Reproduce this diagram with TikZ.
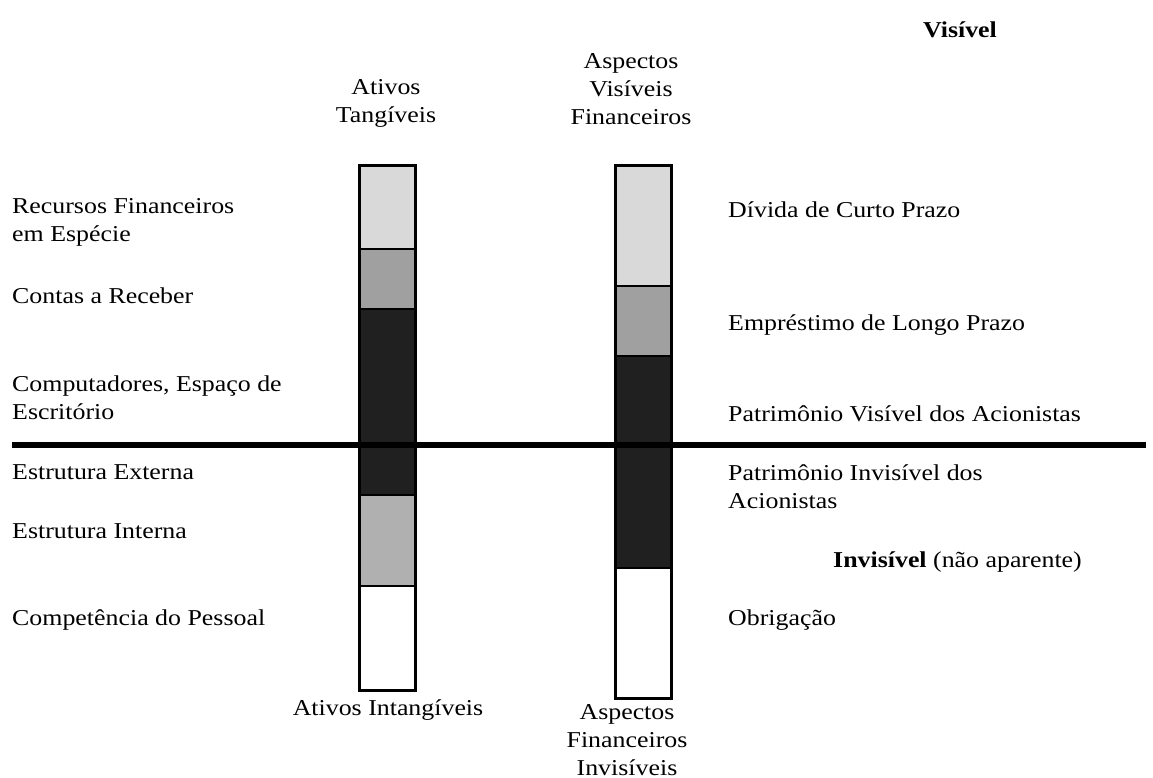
\documentclass[tikz,border=0pt]{standalone}
\usepackage{fontspec}
\setmainfont{Liberation Serif}[FakeStretch=1.14]
\definecolor{lightg}{HTML}{D9D9D9}
\definecolor{midg}{HTML}{A0A0A0}
\definecolor{darkg}{HTML}{202020}
\definecolor{lowg}{HTML}{B0B0B0}
\begin{document}
\begin{tikzpicture}[x=1pt,y=-1pt,
  txt/.style={inner sep=0pt,font=\fontsize{22.7}{28}\selectfont},
  lbl/.style={txt,anchor=west,align=left},
  ctr/.style={txt,align=center},
  seg/.style={draw=black,line width=2pt},
  barout/.style={draw=black,line width=3pt}]
\useasboundingbox[fill=white] (0,0) rectangle (1153,778);
% left bar
\draw[seg,fill=lightg] (359,166) rectangle (415,249);
\draw[seg,fill=midg]   (359,249) rectangle (415,309);
\draw[seg,fill=darkg]  (359,309) rectangle (415,495);
\draw[seg,fill=lowg]   (359,495) rectangle (415,586);
\draw[seg,fill=white]  (359,586) rectangle (415,690);
\draw[barout] (359,166) rectangle (415,690);
% right bar
\draw[seg,fill=lightg] (615,166) rectangle (671,286);
\draw[seg,fill=midg]   (615,286) rectangle (671,356);
\draw[seg,fill=darkg]  (615,356) rectangle (671,568);
\draw[seg,fill=white]  (615,568) rectangle (671,698);
\draw[barout] (615,166) rectangle (671,698);
% divider
\coordinate (lineL) at (12,445);
\coordinate (lineR) at (1146,445);
\draw[line width=6pt] (lineL) -- (lineR);
% top labels
\node[txt,font=\fontsize{22.7}{28}\selectfont\bfseries] (vis) at (960,30) {Visível};
\node[ctr] (at) at (386,103) {Ativos\\Tangíveis};
\node[ctr] (avf) at (631,89) {Aspectos\\Visíveis\\Financeiros};
% left labels
\node[lbl] (rf) at (12,222) {Recursos Financeiros\\em Espécie};
\node[lbl] (cr) at (12,296) {Contas a Receber};
\node[lbl] (ce) at (12,398) {Computadores, Espaço de\\Escritório};
\node[lbl] (ee) at (12,472) {Estrutura Externa};
\node[lbl] (ei) at (12,531) {Estrutura Interna};
\node[lbl] (cp) at (12,620) {Competência do Pessoal};
% right labels
\node[lbl] (dc) at (728,210) {Dívida de Curto Prazo};
\node[lbl] (el) at (728,325) {Empréstimo de Longo Prazo};
\node[lbl] (pv) at (728,414) {Patrimônio Visível dos Acionistas};
\node[lbl] (pi) at (728,487) {Patrimônio Invisível dos\\Acionistas};
\node[lbl] (inv) at (833,562) {\textbf{Invisível} (não aparente)};
\node[lbl] (ob) at (728,620) {Obrigação};
% bottom labels
\node[ctr] (ai) at (388,710) {Ativos Intangíveis};
\node[ctr] (afi) at (627,740) {Aspectos\\Financeiros\\Invisíveis};
\end{tikzpicture}
\end{document}
